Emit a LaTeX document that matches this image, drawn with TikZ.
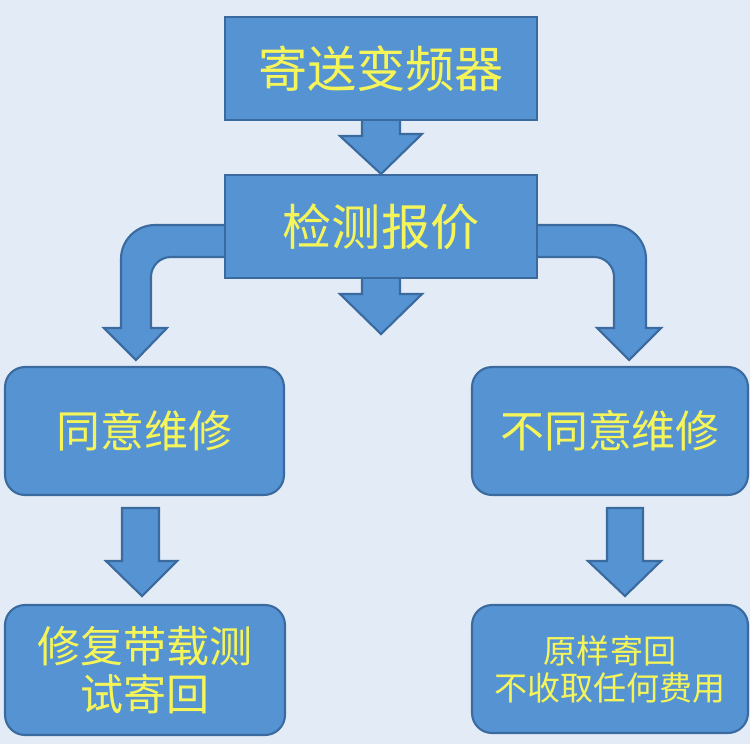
\documentclass[tikz,border=0pt]{standalone}
\usepackage{fontspec}
\setmainfont{Noto Sans CJK SC}
\usetikzlibrary{calc,backgrounds}
\definecolor{paper}{HTML}{E3ECF6}
\definecolor{boxblue}{HTML}{5593D3}
\definecolor{boxline}{HTML}{3A6A9E}
\definecolor{labelyellow}{HTML}{F5F55A}

\begin{document}
\begin{tikzpicture}[
  x=0.02cm,y=-0.02cm,
  font=\fontsize{25}{28}\selectfont,
  stagebox/.style={draw=boxline,line width=1.2pt,fill=boxblue,text=labelyellow,
    align=center,inner sep=0pt},
  squarebox/.style={stagebox,minimum width=6.24cm,minimum height=2.06cm,
    font=\fontsize{28}{32}\selectfont},
  roundbox/.style={stagebox,rounded corners=0.4cm,minimum height=2.56cm},
  block/.style={draw=boxline,line width=1.2pt,fill=boxblue,line join=miter}
]
\path[use as bounding box] (0,0) rectangle (750,744);
\node[squarebox] (send) at (381,68.5) {寄送变频器};
\node[squarebox] (check) at (381,226.5) {检测报价};
\node[roundbox,minimum width=5.58cm] (agree) at (144.5,431) {同意维修};
\node[roundbox,minimum width=5.52cm] (refuse) at (610,431) {不同意维修};
\node[roundbox,minimum width=5.6cm,minimum height=2.6cm,
  font=\fontsize{24.5}{27.5}\selectfont] (repair) at (145,670) {修复带载测\\试寄回};
\node[roundbox,minimum width=5.52cm,
  font=\fontsize{18.8}{21}\selectfont] (giveback) at (610,669) {原样寄回\\不收取任何费用};
\coordinate (endtip) at ($(check.south)+(0,55)$);

\begin{pgfonlayer}{background}
\fill[paper] (0,0) rectangle (750,744);
% straight arrows
\draw[block] ($(send.south)+(-19,-4)$) -- ++(0,19) -- ++(-22,0) -- (check.north)
  -- ++(41,-40) -- ++(-22,0) -- ++(0,-19) -- cycle;
\draw[block] ($(check.south)+(-19,-4)$) -- ++(0,19) -- ++(-22,0) -- (endtip)
  -- ++(41,-40) -- ++(-22,0) -- ++(0,-19) -- cycle;
\draw[block] ($(agree.south)+(-22.5,12)$) -- ++(0,53) -- ++(-16,0) -- ++(36,35)
  -- ++(35,-35) -- ++(-18,0) -- ++(0,-53) -- cycle;
\draw[block] ($(refuse.south)+(-3,12)$) -- ++(0,53) -- ++(-19,0) -- ++(37,35)
  -- ++(36,-35) -- ++(-18,0) -- ++(0,-53) -- cycle;
% bent arrows
\draw[block] ($(check.west)+(5,-1.5)$) -- ++(-74,0)
  arc[start angle=270,end angle=180,radius=34] -- ++(0,69) -- ++(-17,0)
  -- ++(32,32) -- ++(31,-32) -- ++(-16,0) -- ++(0,-51)
  arc[start angle=180,end angle=270,radius=20] -- ($(check.west)+(5,30.5)$) -- cycle;
\draw[block] ($(check.east)+(-5,-1.5)$) -- ++(79,0)
  arc[start angle=270,end angle=360,radius=34] -- ++(0,69) -- ++(15,0)
  -- ++(-32,32) -- ++(-32,-32) -- ++(17,0) -- ++(0,-51)
  arc[start angle=0,end angle=-90,radius=20] -- ($(check.east)+(-5,30.5)$) -- cycle;
\end{pgfonlayer}
\end{tikzpicture}
\end{document}
